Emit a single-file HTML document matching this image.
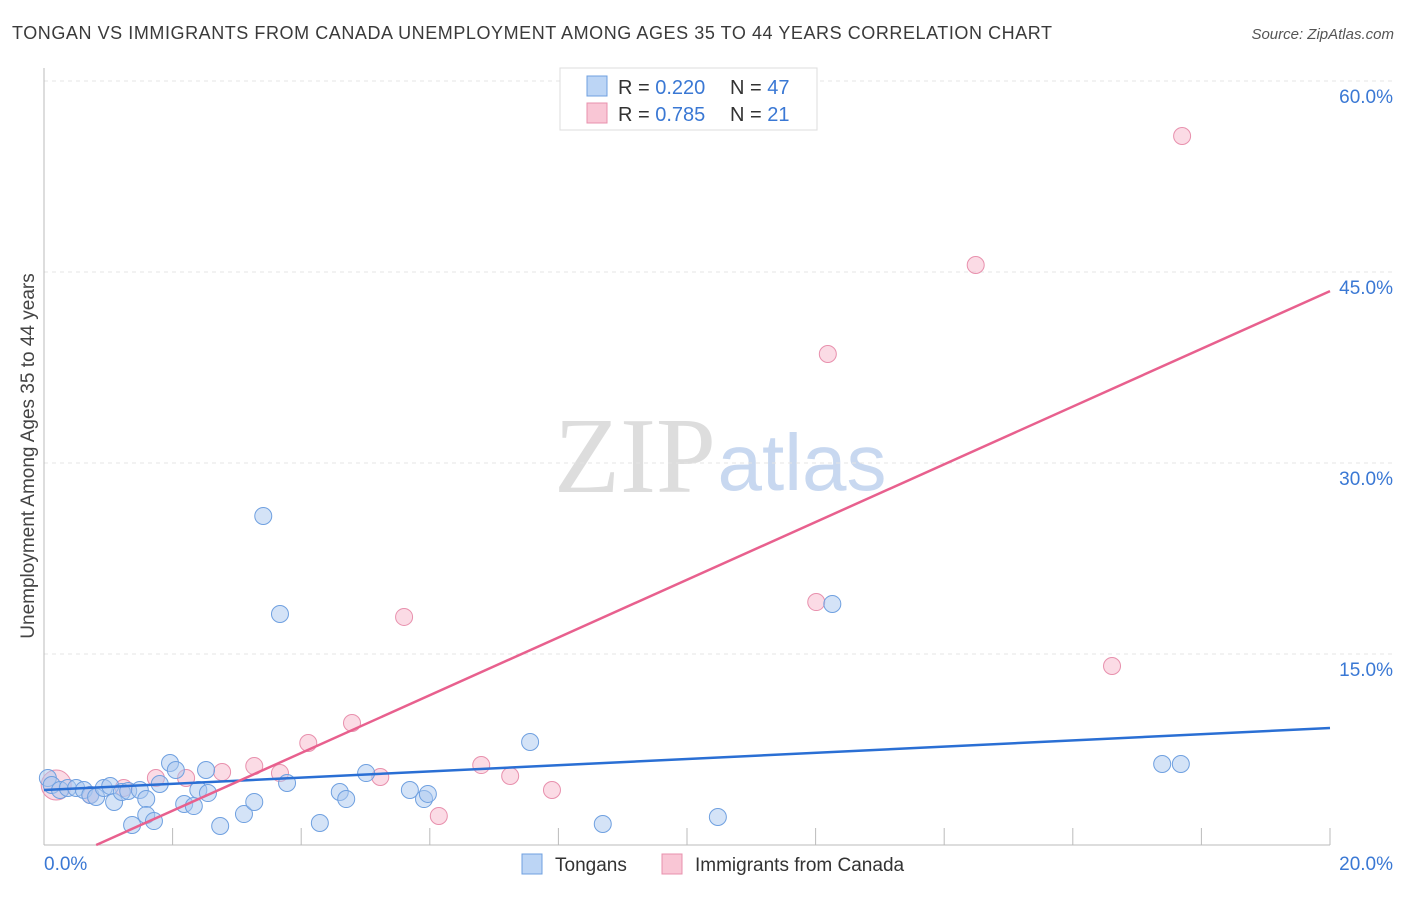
<!DOCTYPE html>
<html><head><meta charset="utf-8"><style>
body{margin:0;background:#fff;font-family:"Liberation Sans",sans-serif;}
svg text{font-family:"Liberation Sans",sans-serif;}
</style></head><body>
<svg width="1406" height="892" xmlns="http://www.w3.org/2000/svg">
<text x="12" y="39" font-size="18" fill="#3a3a3a" textLength="1040">TONGAN VS IMMIGRANTS FROM CANADA UNEMPLOYMENT AMONG AGES 35 TO 44 YEARS CORRELATION CHART</text>
<text x="1394" y="39" font-size="15" fill="#555" font-style="italic" text-anchor="end">Source: ZipAtlas.com</text>
<text x="635" y="492" font-size="108" fill="#ddd" text-anchor="middle" style="font-family:'Liberation Serif',serif">ZIP</text>
<text x="802" y="490" font-size="80" fill="#c8d8f0" text-anchor="middle">atlas</text>
<g id="grid"></g>
<g id="marks"></g>
<g id="lines"></g>
<text x="28" y="456" font-size="19" fill="#444" text-anchor="middle" transform="rotate(-90 28 456)" dy="6">Unemployment Among Ages 35 to 44 years</text>
<text x="44" y="870" font-size="19" fill="#3a78d4">0.0%</text>
<text x="1393" y="870" font-size="19" fill="#3a78d4" text-anchor="end">20.0%</text>
<g>
<rect x="560" y="68" width="257" height="62" fill="#fff" stroke="#ddd"/>
<rect x="587" y="76" width="20" height="20" fill="#bcd5f5" stroke="#6fa0e0"/>
<rect x="587" y="103" width="20" height="20" fill="#f9c6d5" stroke="#e890ad"/>
<text x="618" y="94" font-size="20" fill="#333">R = <tspan fill="#3a78d4">0.220</tspan><tspan x="730">N = </tspan><tspan fill="#3a78d4">47</tspan></text>
<text x="618" y="121" font-size="20" fill="#333">R = <tspan fill="#3a78d4">0.785</tspan><tspan x="730">N = </tspan><tspan fill="#3a78d4"> 21</tspan></text>
</g>
<g>
<rect x="522" y="854" width="20" height="20" fill="#bcd5f5" stroke="#6fa0e0"/>
<text x="555" y="871" font-size="19" fill="#333">Tongans</text>
<rect x="662" y="854" width="20" height="20" fill="#f9c6d5" stroke="#e890ad"/>
<text x="695" y="871" font-size="19" fill="#333">Immigrants from Canada</text>
</g>
</svg>
<script>
const yTicks=[15,30,45,60];
const yTickLabels=["15.0%","30.0%","45.0%","60.0%"];
const xTickVals=[2,4,6,8,10,12,14,16,18,20];
const blueX=[0.06,0.12,0.25,0.37,0.50,0.62,0.72,0.81,0.93,1.03,1.09,1.21,1.31,1.37,1.49,1.59,1.59,1.71,1.80,1.96,2.05,2.18,2.33,2.40,2.52,2.55,2.74,3.11,3.27,3.41,3.67,3.78,4.29,4.60,4.70,5.01,5.69,5.91,5.97,7.56,8.69,10.48,12.26,17.39,17.68];
const blueY=[5.26,4.71,4.32,4.48,4.48,4.32,3.93,3.77,4.48,4.63,3.38,4.16,4.24,1.57,4.32,3.61,2.36,1.88,4.79,6.44,5.89,3.22,3.06,4.32,5.89,4.08,1.49,2.43,3.38,25.84,18.14,4.87,1.73,4.16,3.61,5.65,4.32,3.61,4.01,8.09,1.65,2.20,18.93,6.36,6.36];
const pinkX=[0.19,0.72,1.24,1.74,2.21,2.77,3.27,3.67,4.11,4.79,5.23,5.60,6.14,6.80,7.25,7.90,12.01,12.19,14.49,16.61,17.70];
const pinkY=[4.71,3.93,4.48,5.26,5.26,5.73,6.20,5.65,8.01,9.58,5.34,17.91,2.28,6.28,5.42,4.32,19.08,38.56,45.55,14.06,55.68];
const blueTrend=[4.32,0.2435];
const pinkTrend=[-1.84,2.267];
const X=v=>44+v/20*1286, Y=v=>845-v/15*191;
const NS="http://www.w3.org/2000/svg";
function mk(t,a,p){const e=document.createElementNS(NS,t);for(const k in a)e.setAttribute(k,a[k]);p.appendChild(e);return e;}
const grid=document.getElementById('grid');
yTicks.forEach((t,i)=>{
 const l=mk('line',{x1:44,x2:1393,y1:Y(t),y2:Y(t),stroke:'#e4e4e4','stroke-dasharray':'4,4'},grid);
 
 
 const tx=mk('text',{x:1393,y:Y(t)+22,'font-size':19,fill:'#3a78d4','text-anchor':'end'},grid);
 tx.textContent=yTickLabels[i];
 
 
});
const ax=mk('line',{x1:44,x2:44,y1:68,y2:845,stroke:'#bbb'},grid);


const bx=mk('line',{x1:44,x2:1330,y1:845,y2:845,stroke:'#bbb'},grid);


xTickVals.forEach(v=>{
 const t=mk('line',{x1:X(v),x2:X(v),y1:828,y2:845,stroke:'#bbb'},grid);
 
 
});
const marks=document.getElementById('marks');
const big=mk('circle',{cx:X(pinkX[0]),cy:Y(pinkY[0]),r:15,fill:'rgba(247,184,204,0.5)',stroke:'#e890ad','stroke-width':1},marks);


pinkX.forEach((x,i)=>{if(i===0)return;
 const c=mk('circle',{cx:X(x),cy:Y(pinkY[i]),r:8.5,fill:'rgba(247,184,204,0.5)',stroke:'#e890ad','stroke-width':1},marks);
 
 
});
blueX.forEach((x,i)=>{
 const c=mk('circle',{cx:X(x),cy:Y(blueY[i]),r:8.5,fill:'rgba(169,200,240,0.5)',stroke:'#6fa0e0','stroke-width':1},marks);
 
 
});
const lines=document.getElementById('lines');
const bl=mk('line',{x1:X(0),y1:Y(blueTrend[0]),x2:X(20),y2:Y(blueTrend[0]+20*blueTrend[1]),stroke:'#2a6fd4','stroke-width':2.5},lines);


const x0=-pinkTrend[0]/pinkTrend[1];
const pl=mk('line',{x1:X(x0),y1:Y(0),x2:X(20),y2:Y(pinkTrend[0]+20*pinkTrend[1]),stroke:'#e8608e','stroke-width':2.5},lines);


</script>
</body></html>
